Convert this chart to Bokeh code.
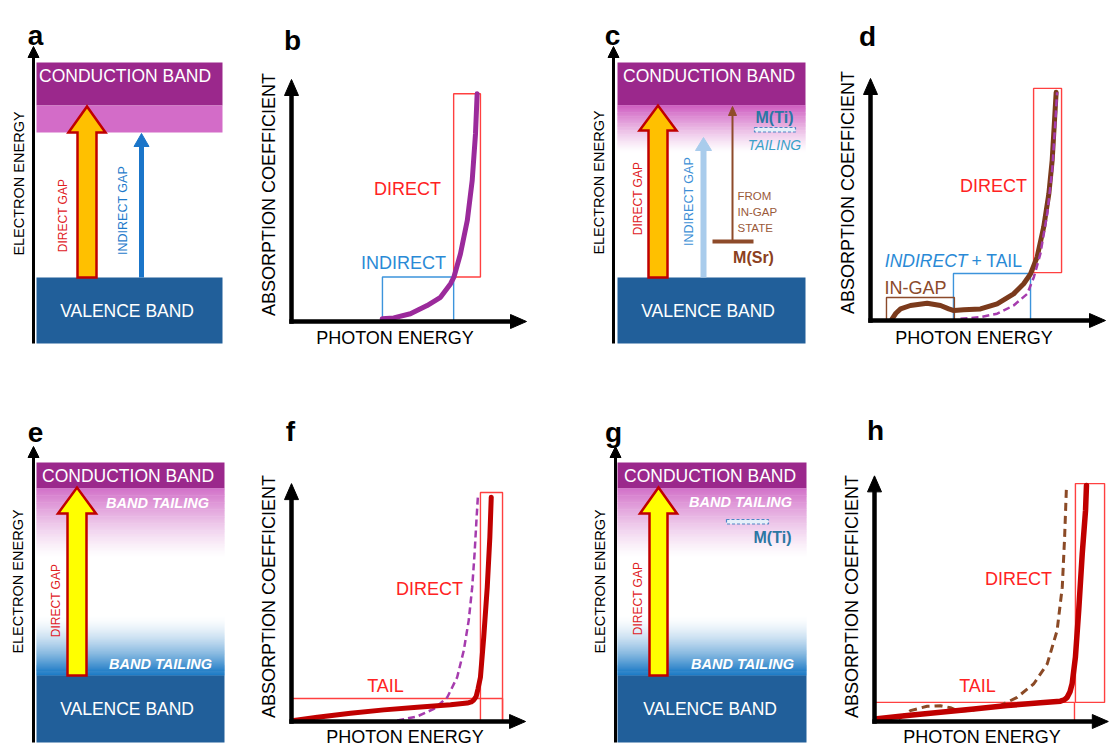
import numpy as np
from bokeh.plotting import figure
from bokeh.models import Range1d
from bokeh.core.properties import value
from bokeh.embed import file_html
from bokeh.resources import INLINE

# ---------------- data (photon energy E / absorption A, arbitrary units 0-100) ----------------
b_E = [38.6, 43.5, 50.6, 57.7, 63.4, 67.7, 69.1, 71.9, 74.8, 76.9, 78.3, 79.0]
b_A = [1.1, 1.5, 3.2, 6.6, 10.0, 15.6, 18.3, 28.0, 41.7, 58.3, 77.6, 94.1]

d_tail_E = [9.2, 10.8, 12.8, 17.0, 24.1, 29.8, 33.3, 35.5, 39.7, 46.8, 53.9, 60.9, 65.2, 68.1, 70.9, 73.7, 75.9, 77.3, 78.3, 79.0]
d_tail_A = [0.7, 3.0, 4.8, 6.2, 7.1, 6.2, 4.8, 4.1, 4.4, 4.8, 6.9, 11.0, 15.2, 19.3, 26.2, 38.6, 52.4, 66.1, 82.6, 94.3]
d_ref_E = [38.3, 46.8, 53.9, 60.9, 66.7, 69.5, 72.3, 75.2, 77.3, 78.7, 79.4]
d_ref_A = [0.7, 1.4, 2.8, 6.2, 11.0, 17.9, 27.6, 44.1, 62.0, 82.6, 94.3]

f_tail_E = [1.0, 11.0, 25.1, 39.3, 53.5, 67.7, 74.8, 76.5, 77.6, 78.6, 79.4, 80.4, 81.8, 83.3, 84.4, 85.0]
f_tail_A = [0.4, 1.8, 3.4, 4.8, 5.9, 6.9, 7.6, 8.1, 8.9, 10.4, 13.6, 18.3, 34.8, 55.5, 76.1, 92.7]
f_ref_E = [45.0, 53.5, 60.6, 66.3, 70.5, 73.3, 75.4, 76.9, 77.9, 78.7, 79.3]
f_ref_A = [0.4, 2.1, 5.2, 10.0, 18.3, 29.3, 41.7, 55.5, 69.3, 83.1, 92.7]

h_tail_E = [1.1, 13.9, 28.1, 42.3, 56.5, 70.6, 79.1, 80.8, 82.0, 83.2, 84.1, 85.5, 86.9, 88.4, 89.8, 90.2]
h_tail_A = [1.1, 2.5, 3.8, 5.2, 6.6, 7.7, 8.4, 9.0, 10.0, 12.3, 15.6, 26.6, 45.9, 69.3, 87.2, 97.5]
h_ref_E = [10.3, 15.3, 22.4, 28.1, 32.3, 35.9, 42.3, 53.6, 60.7, 67.8, 73.5, 77.7, 79.9, 80.9, 81.7]
h_ref_A = [1.1, 4.5, 6.3, 6.5, 5.7, 4.3, 4.8, 6.6, 10.0, 15.6, 23.8, 37.6, 55.5, 76.1, 97.5]

# region boxes: [E_left, E_right, A_bottom, A_top]
b_direct_box = [69.0, 80.4, 18.4, 94.1]
b_indirect_box = [38.7, 69.0, 0.0, 18.4]
d_direct_box = [69.4, 81.3, 19.8, 95.9]
d_indirect_box = [35.3, 68.1, 0.0, 19.4]
d_ingap_box = [6.8, 35.7, 0.0, 9.5]
f_tail_box = [0.0, 89.8, 0.0, 9.5]
f_direct_box = [80.4, 89.8, 0.0, 94.6]
h_tail_box = [0.0, 85.1, 0.0, 7.9]
h_direct_box = [85.5, 97.9, 7.9, 98.3]

# ---------------- page / layout ----------------
W, H = 1111, 745
p = figure(width=W, height=H, x_range=Range1d(0, W), y_range=Range1d(H, 0),
           output_backend="svg", toolbar_location=None, min_border=0,
           x_axis_location=None, y_axis_location=None)
p.grid.visible = False
p.outline_line_color = None

FONT = "Liberation Sans"
PLOT_ORIGIN = {"b": (291, 321), "d": (870, 320), "f": (291, 721), "h": (874, 721)}
SX, SY = 2.35, 2.42


def txt(x, y, s, size, color, style="normal", align="center", angle=0.0, baseline="middle"):
    p.text(x=[x], y=[y], text=[s], text_font=value(FONT), text_font_size=value(f"{size}px"),
           text_color=color, text_font_style=style, text_align=align,
           text_baseline=baseline, angle=angle)


def head(tx, ty, dx, dy, length, half, color):
    bx, by = tx - dx * length, ty - dy * length
    nx, ny = -dy, dx
    p.patch([tx, bx + nx * half, bx - nx * half], [ty, by + ny * half, by - ny * half],
            fill_color=color, line_color=color, line_width=1)


def mix(c, t):
    # t=1 full colour, t=0 white
    return "#%02x%02x%02x" % tuple(int(round(255 + (ci - 255) * t)) for ci in c)


def gradient(x0, x1, y_strong, y_fade, rgb, n=60, power=1.0):
    ys = np.linspace(y_strong, y_fade, n + 1)
    cols = [mix(rgb, (1 - (i + 0.5) / n) ** power) for i in range(n)]
    step = ys[1] - ys[0]
    tops = list(ys[:-1] - 0.3 * np.sign(step))
    bots = list(ys[1:] + 0.3 * np.sign(step))
    p.quad(left=x0, right=x1, top=tops, bottom=bots, fill_color=cols, line_color=None)


def block_arrow(xc, y_bottom, y_tip, shaft_w, head_w, head_h, fill):
    xs = [xc - shaft_w / 2, xc - shaft_w / 2, xc - head_w / 2, xc, xc + head_w / 2,
          xc + shaft_w / 2, xc + shaft_w / 2]
    ys = [y_bottom, y_tip + head_h, y_tip + head_h, y_tip, y_tip + head_h, y_tip + head_h, y_bottom]
    p.patch(xs, ys, fill_color=fill, line_color="#C00000", line_width=2.5, line_join="miter")


def to_px(panel, E, A):
    x0, y0 = PLOT_ORIGIN[panel]
    return [x0 + e * SX for e in E], [y0 - a * SY for a in A]


def box(panel, bx, color):
    xs, ys = to_px(panel, [bx[0], bx[1]], [bx[2], bx[3]])
    p.quad(left=xs[0], right=xs[1], bottom=ys[0], top=ys[1], fill_color=None,
           line_color=color, line_width=1.4)


def plot_axes(panel, xlen=100, ylen=100):
    x0, y0 = PLOT_ORIGIN[panel]
    xt, yt = x0 + xlen * SX, y0 - ylen * SY
    p.line([x0, x0], [y0 + 2.2, yt + 14], line_color="black", line_width=4.5)
    p.line([x0 - 2.2, xt - 14], [y0, y0], line_color="black", line_width=4.5)
    head(x0, yt, 0, -1, 16, 7, "black")
    head(xt, y0, 1, 0, 16, 7, "black")


CB_COL = "#9b288c"
VB_COL = "#215f9a"
PINK = (211, 108, 200)
BLUE = (8, 110, 192)
RED_TXT = "#ff2222"
BLUE_TXT = "#2a8ad6"

# ---------------- panel a ----------------
p.quad(left=36, right=222, top=62, bottom=105, fill_color=CB_COL, line_color=None)
p.quad(left=36, right=222, top=105, bottom=132, fill_color=mix(PINK, 1.0), line_color=None)
p.quad(left=36, right=222, top=277, bottom=343, fill_color=VB_COL, line_color=None)
p.line([33, 33], [343, 56], line_color="black", line_width=3)
head(33, 46, 0, -1, 11, 5.5, "black")
block_arrow(86.5, 277, 106, 19, 37, 26, "#ffc000")
p.line([141, 141], [277, 143], line_color="#1a75c9", line_width=5)
head(141, 133, 0, -1, 13, 7.5, "#1a75c9")
txt(127, 75, "CONDUCTION  BAND", 17.5, "white")
txt(129, 310, "VALENCE  BAND", 17.5, "white")
txt(62, 215, "DIRECT GAP", 12, "#e0201e", angle=np.pi / 2)
txt(122.5, 210, "INDIRECT GAP", 12.5, "#1f7bcb", angle=np.pi / 2)
txt(18, 183, "ELECTRON ENERGY", 14.5, "black", angle=np.pi / 2)

# ---------------- panel b ----------------
box("b", b_direct_box, "#ff4040")
box("b", b_indirect_box, "#3c94dc")
xs, ys = to_px("b", b_E, b_A)
p.line(xs, ys, line_color="#9b2a9b", line_width=5, line_join="round", line_cap="round")
plot_axes("b")
txt(407, 188, "DIRECT", 18, RED_TXT)
txt(403, 262, "INDIRECT", 18, BLUE_TXT)
txt(268, 194, "ABSORPTION COEFFICIENT", 18, "black", angle=np.pi / 2)
txt(397, 337, "PHOTON  ENERGY", 18, "black")

# ---------------- panel c ----------------
p.quad(left=617, right=805, top=62, bottom=105, fill_color=CB_COL, line_color=None)
gradient(617, 805, 105, 152, (206, 92, 192), power=1.2)
p.quad(left=617, right=805, top=277, bottom=343, fill_color=VB_COL, line_color=None)
p.line([613, 613], [343, 56], line_color="black", line_width=3)
head(613, 46, 0, -1, 11, 5.5, "black")
block_arrow(657.5, 277, 105, 19, 37, 25, "#ffc000")
p.line([703, 703], [277, 147], line_color="#a9ccec", line_width=6)
head(703, 137, 0, -1, 13, 8, "#a9ccec")
p.line([732, 732], [241, 114], line_color="#8e4b2a", line_width=2)
head(732, 106, 0, -1, 9, 4, "#8e4b2a")
p.line([712, 753], [241, 241], line_color="#8e4b2a", line_width=4)
p.quad(left=754, right=795, top=127, bottom=131.5, fill_color="#e6eff9", line_color="#4f86c6",
       line_dash="3 2", line_width=1.2)
txt(711, 75, "CONDUCTION  BAND", 17.5, "white")
txt(710, 310, "VALENCE  BAND", 17.5, "white")
txt(637, 198, "DIRECT GAP", 12, "#e0201e", angle=np.pi / 2)
txt(688, 201, "INDIRECT GAP", 12.5, "#3d8fd6", angle=np.pi / 2)
txt(598, 182, "ELECTRON ENERGY", 14.5, "black", angle=np.pi / 2)
txt(774, 117, "M(Ti)", 16, "#2c77a3", style="bold")
txt(774, 144, "TAILING", 14, "#3aa0c8", style="italic")
txt(737, 195, "FROM", 11.5, "#9a5a3a", align="left")
txt(737, 211, "IN-GAP", 11.5, "#9a5a3a", align="left")
txt(737, 227, "STATE", 11.5, "#9a5a3a", align="left")
txt(753, 257, "M(Sr)", 16, "#8b4020", style="bold")

# ---------------- panel d ----------------
box("d", d_direct_box, "#ff4040")
box("d", d_indirect_box, "#3c94dc")
box("d", d_ingap_box, "#8b4a2b")
xs, ys = to_px("d", d_tail_E, d_tail_A)
p.line(xs, ys, line_color="#7b3a1c", line_width=5, line_join="round", line_cap="round")
xs, ys = to_px("d", d_ref_E, d_ref_A)
p.line(xs, ys, line_color="#a63cae", line_width=2.5, line_dash="7 4")
plot_axes("d")
txt(993, 185, "DIRECT", 18, RED_TXT)
txt(967, 260, "INDIRECT", 17.5, BLUE_TXT, style="italic", align="right")
txt(971, 260, "+ TAIL", 17.5, BLUE_TXT, align="left")
txt(915, 287, "IN-GAP", 18, "#8b4a2b")
txt(847, 192, "ABSORPTION COEFFICIENT", 18, "black", angle=np.pi / 2)
txt(976, 337, "PHOTON  ENERGY", 18, "black")

# ---------------- panel e ----------------
p.quad(left=36, right=224, top=462, bottom=488, fill_color=CB_COL, line_color=None)
gradient(36, 224, 488, 558, (210, 112, 200), power=1.3)
gradient(36, 224, 675, 614, BLUE, power=1.6)
p.quad(left=36, right=224, top=675, bottom=742, fill_color=VB_COL, line_color=None)
p.line([33, 33], [742, 456], line_color="black", line_width=3)
head(33, 446, 0, -1, 11, 5.5, "black")
block_arrow(76.5, 675, 487, 19, 38, 26, "#ffff00")
txt(130, 475, "CONDUCTION  BAND", 17.5, "white")
txt(129, 708, "VALENCE  BAND", 17.5, "white")
txt(157, 502, "BAND TAILING", 14.5, "white", style="bold italic")
txt(160, 663, "BAND TAILING", 14.5, "white", style="bold italic")
txt(55, 600, "DIRECT GAP", 12, "#e0201e", angle=np.pi / 2)
txt(17.5, 581, "ELECTRON ENERGY", 14.5, "black", angle=np.pi / 2)

# ---------------- panel f ----------------
box("f", f_tail_box, "#ff4040")
box("f", f_direct_box, "#ff4040")
xs, ys = to_px("f", f_ref_E, f_ref_A)
p.line(xs, ys, line_color="#a63cae", line_width=2.5, line_dash="7 4")
xs, ys = to_px("f", f_tail_E, f_tail_A)
p.line(xs, ys, line_color="#c00000", line_width=5, line_join="round", line_cap="round")
plot_axes("f", 99.6, 98.3)
txt(429, 588, "DIRECT", 18, RED_TXT)
txt(385, 685, "TAIL", 18, RED_TXT)
txt(268, 596, "ABSORPTION COEFFICIENT", 18, "black", angle=np.pi / 2)
txt(407, 736, "PHOTON  ENERGY", 18, "black")

# ---------------- panel g ----------------
p.quad(left=617, right=806, top=462, bottom=488, fill_color=CB_COL, line_color=None)
gradient(617, 806, 488, 558, (210, 112, 200), power=1.3)
gradient(617, 806, 675, 614, BLUE, power=1.6)
p.quad(left=617, right=806, top=675, bottom=742, fill_color=VB_COL, line_color=None)
p.line([615, 615], [742, 456], line_color="black", line_width=3)
head(615, 446, 0, -1, 11, 5.5, "black")
block_arrow(658, 675, 487, 18, 37, 26, "#ffff00")
p.quad(left=726, right=768, top=519, bottom=523.5, fill_color="#e6eff9", line_color="#4f86c6",
       line_dash="3 2", line_width=1.2)
txt(712, 475, "CONDUCTION  BAND", 17.5, "white")
txt(712, 708, "VALENCE  BAND", 17.5, "white")
txt(740, 501, "BAND TAILING", 14.5, "white", style="bold italic")
txt(742, 663, "BAND TAILING", 14.5, "white", style="bold italic")
txt(772, 537, "M(Ti)", 16, "#2c77a3", style="bold")
txt(637, 598, "DIRECT GAP", 12, "#e0201e", angle=np.pi / 2)
txt(599, 581, "ELECTRON ENERGY", 14.5, "black", angle=np.pi / 2)

# ---------------- panel h ----------------
box("h", h_tail_box, "#ff4040")
box("h", h_direct_box, "#ff4040")
xs, ys = to_px("h", h_ref_E, h_ref_A)
p.line(xs, ys, line_color="#8b4a26", line_width=3, line_dash="8 5")
xs, ys = to_px("h", h_tail_E, h_tail_A)
p.line(xs, ys, line_color="#c00000", line_width=5.5, line_join="round", line_cap="round")
plot_axes("h", 99.5, 101.5)
txt(1018, 578, "DIRECT", 18, RED_TXT)
txt(977, 685, "TAIL", 18, RED_TXT)
txt(851, 596, "ABSORPTION COEFFICIENT", 18, "black", angle=np.pi / 2)
txt(984, 736, "PHOTON  ENERGY", 18, "black")

# ---------------- panel letters ----------------
for lx, ly, lt in [(35, 35, "a"), (292, 40, "b"), (612, 35, "c"), (867, 36, "d"),
                   (35, 432, "e"), (290, 431, "f"), (613, 432, "g"), (875, 430, "h")]:
    txt(lx, ly, lt, 28, "black", style="bold", baseline="alphabetic")

open("out.html", "w").write(file_html(p, INLINE))
